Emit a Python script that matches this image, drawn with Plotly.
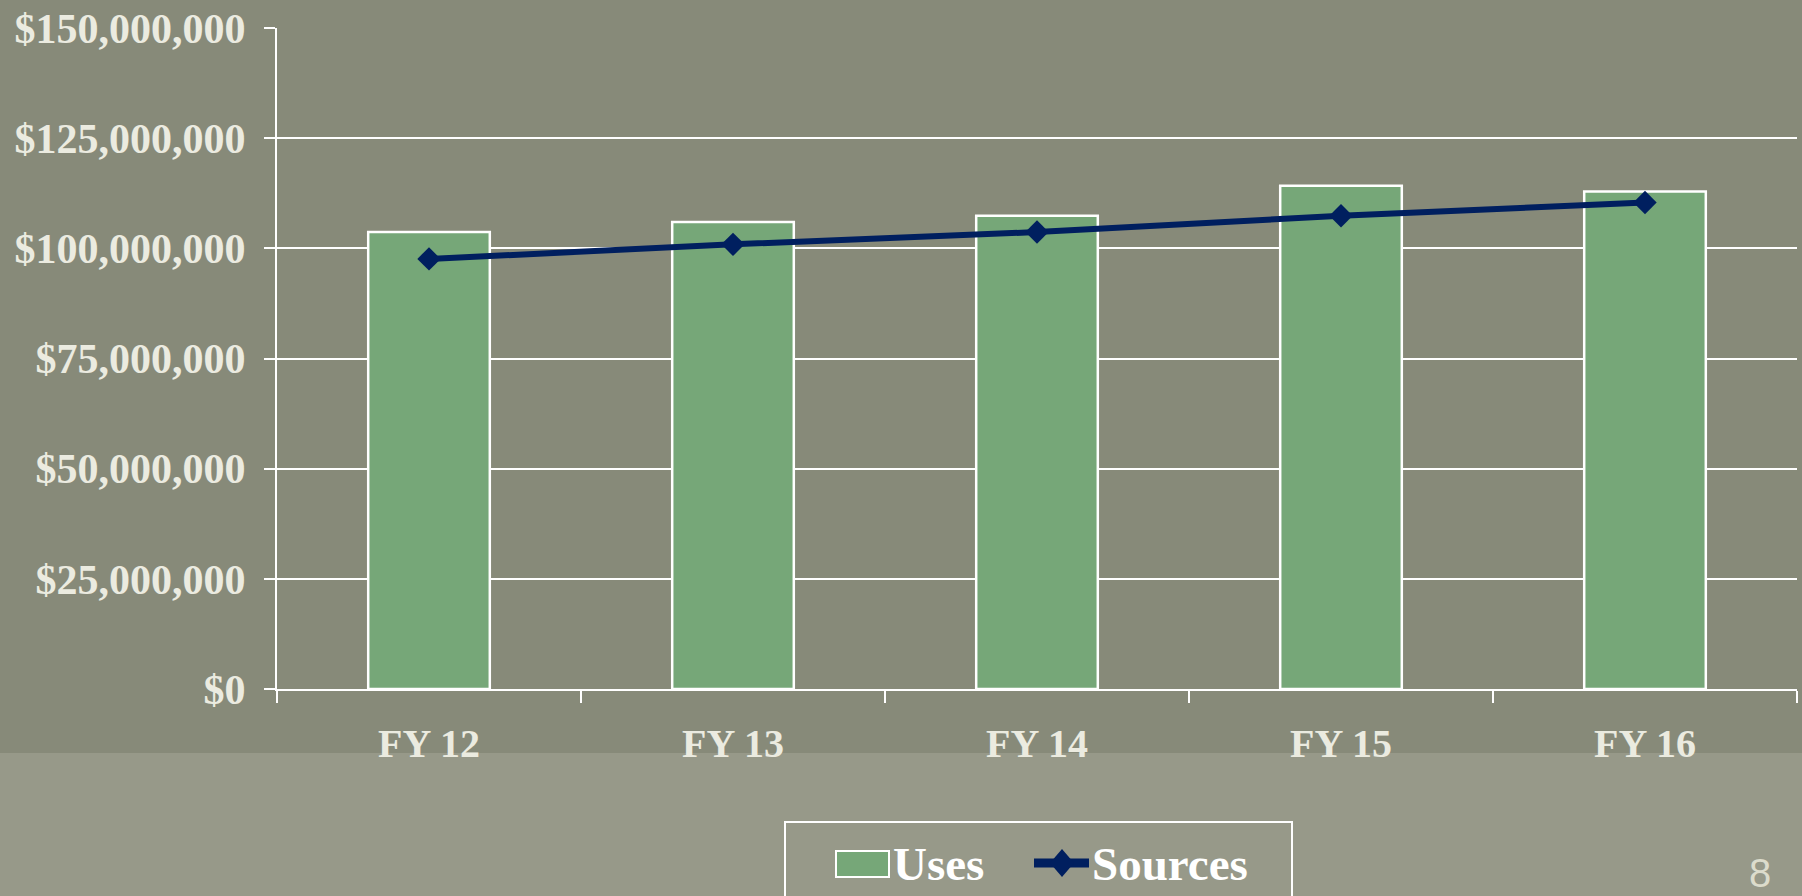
import plotly.graph_objects as go

categories = ["FY 12", "FY 13", "FY 14", "FY 15", "FY 16"]
uses = [103.7e6, 106.0e6, 107.4e6, 114.2e6, 112.9e6]
sources = [97.6e6, 100.9e6, 103.7e6, 107.4e6, 110.4e6]
y_ticks = [0, 25e6, 50e6, 75e6, 100e6, 125e6, 150e6]
y_tick_labels = ["$0", "$25,000,000", "$50,000,000", "$75,000,000",
                 "$100,000,000", "$125,000,000", "$150,000,000"]

W, H = 1802, 896
ML, MR, MT, MB = 277, 5, 28, 207
PW, PH = W - ML - MR, H - MT - MB

BG = "#878a79"
BAND = "#979989"
GREEN = "#76a778"
NAVY = "#001f5f"
TEXT = "#ebebe0"
FONT = "Liberation Serif"


def px(x):
    return (x - ML) / PW


def py(y):
    return (H - MB - y) / PH


fig = go.Figure()
fig.add_trace(go.Bar(
    x=categories, y=uses, name="Uses", showlegend=False,
    marker=dict(color=GREEN, line=dict(color="white", width=2.5)),
))
fig.add_trace(go.Scatter(
    x=categories, y=sources, name="Sources", mode="lines+markers", showlegend=False,
    line=dict(color=NAVY, width=6),
    marker=dict(symbol="diamond", size=18, color=NAVY),
))

# textured lower band of the slide
fig.add_shape(type="rect", xref="paper", yref="paper",
              x0=px(-10), x1=px(W + 10), y0=py(H + 10), y1=py(753),
              fillcolor=BAND, line=dict(width=0), layer="below")

# legend (drawn manually to match the large swatches)
fig.add_shape(type="rect", xref="paper", yref="paper",
              x0=px(785), x1=px(1292), y0=py(910), y1=py(822),
              fillcolor="rgba(0,0,0,0)", line=dict(color="white", width=2))
fig.add_shape(type="rect", xref="paper", yref="paper",
              x0=px(836), x1=px(889), y0=py(877), y1=py(851),
              fillcolor=GREEN, line=dict(color="white", width=2))
fig.add_shape(type="line", xref="paper", yref="paper",
              x0=px(1034), x1=px(1089), y0=py(863), y1=py(863),
              line=dict(color=NAVY, width=9))
cx, cy = px(1062), py(863)
dx, dy = 12 / PW, 14 / PH
fig.add_shape(type="path", xref="paper", yref="paper",
              path=f"M {cx - dx} {cy} L {cx} {cy + dy} L {cx + dx} {cy} L {cx} {cy - dy} Z",
              fillcolor=NAVY, line=dict(color=NAVY, width=0))
legend_font = dict(family=FONT, size=47, color="white", weight="bold")
fig.add_annotation(text="Uses", xref="paper", yref="paper", x=px(891), y=py(864),
                   xanchor="left", yanchor="middle", showarrow=False, font=legend_font)
fig.add_annotation(text="Sources", xref="paper", yref="paper", x=px(1090), y=py(864),
                   xanchor="left", yanchor="middle", showarrow=False, font=legend_font)

# slide number
fig.add_annotation(text="8", xref="paper", yref="paper", x=px(1748), y=py(H),
                   xanchor="left", yanchor="bottom", showarrow=False, borderpad=0,
                   font=dict(family="Liberation Sans", size=40, color="#dcdccc"))

fig.update_layout(
    width=W, height=H,
    margin=dict(l=ML, r=MR, t=MT, b=MB, autoexpand=False),
    paper_bgcolor=BG, plot_bgcolor=BG,
    bargap=0.6,
    showlegend=False,
    font=dict(family=FONT, color=TEXT),
)
fig.update_xaxes(
    type="category", showline=True, linecolor="white", linewidth=2,
    ticks="outside", tickson="boundaries", ticklen=12, tickcolor="white", tickwidth=2,
    tickfont=dict(family=FONT, size=40, color=TEXT, weight="bold"),
    ticklabelstandoff=18, showgrid=False, automargin=False,
)
fig.update_yaxes(
    range=[0, 150e6], tickvals=y_ticks, ticktext=y_tick_labels,
    showline=True, linecolor="white", linewidth=2,
    ticks="outside", ticklen=11, tickcolor="white", tickwidth=2,
    showgrid=True, gridcolor="white", gridwidth=2, zeroline=False,
    tickfont=dict(family=FONT, size=42, color=TEXT, weight="bold"),
    ticklabelstandoff=10, automargin=False,
)

fig.write_html("out.html", config={"displayModeBar": False},
               post_script="document.body.style.margin='0px';")
